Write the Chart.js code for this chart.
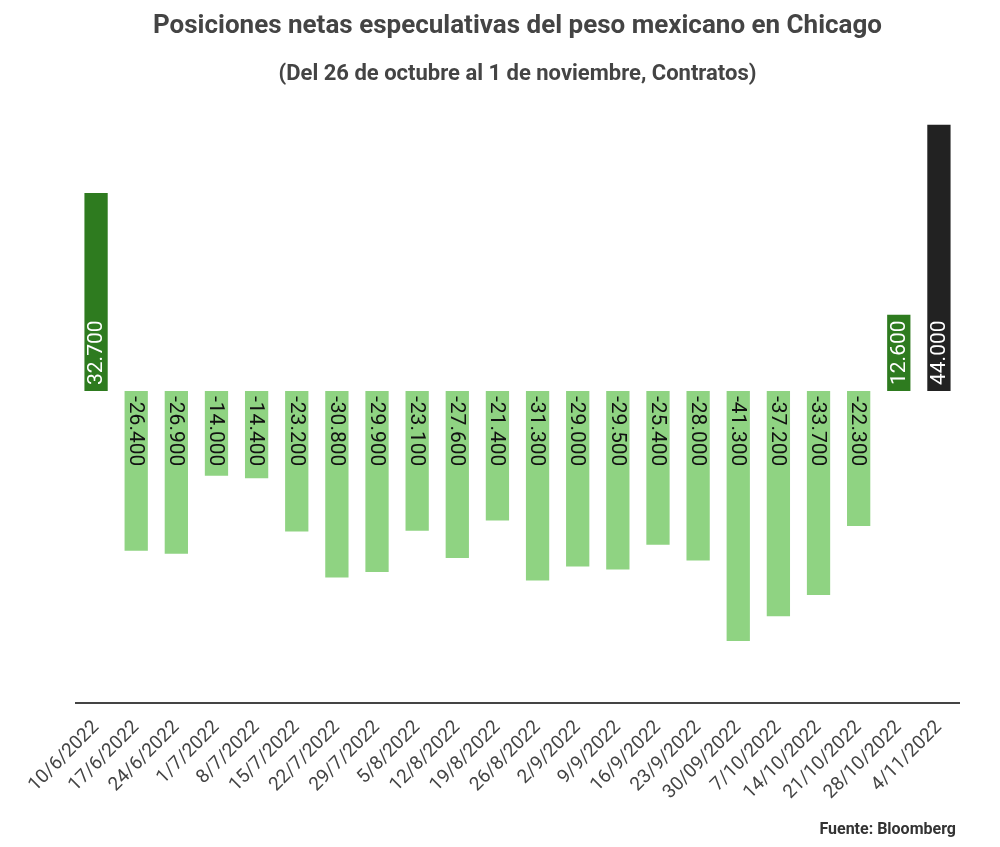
<!DOCTYPE html>
<html>
<head>
<meta charset="utf-8">
<script src="https://cdn.jsdelivr.net/npm/chart.js@4"></script>
<style>
  html, body { margin: 0; padding: 0; background: #fff; }
  #wrap { width: 1000px; height: 847px; }
</style>
</head>
<body>
<div id="wrap"><canvas id="myChart"></canvas></div>
<script>
// Chart data
const fechas = [
  "10/6/2022", "17/6/2022", "24/6/2022", "1/7/2022", "8/7/2022", "15/7/2022",
  "22/7/2022", "29/7/2022", "5/8/2022", "12/8/2022", "19/8/2022", "26/8/2022",
  "2/9/2022", "9/9/2022", "16/9/2022", "23/9/2022", "30/09/2022", "7/10/2022",
  "14/10/2022", "21/10/2022", "28/10/2022", "4/11/2022"
];
const contratos = [
  32700, -26400, -26900, -14000, -14400, -23200, -30800, -29900, -23100, -27600,
  -21400, -31300, -29000, -29500, -25400, -28000, -41300, -37200, -33700, -22300,
  12600, 44000
];
const titulo = "Posiciones netas especulativas del peso mexicano en Chicago";
const subtitulo = "(Del 26 de octubre al 1 de noviembre, Contratos)";
const fuente = "Fuente: Bloomberg";

const ctx = document.getElementById("myChart");

// colour per bar: positive dark green, negative light green, last week black
const colores = contratos.map((v, i) => {
  if (i === contratos.length - 1) return "#222222";
  return v >= 0 ? "#2e7b1f" : "#8fd382";
});

function formato(v) {
  const s = Math.abs(v).toString().replace(/\B(?=(\d{3})+(?!\d))/g, ".");
  return (v < 0 ? "-" : "") + s;
}

// rotated value labels inside the bars + source note
let etiquetas = {
  id: "etiquetas",
  afterDatasetsDraw: (chart) => {
    const c = chart.ctx;
    const meta = chart.getDatasetMeta(0);
    c.save();
    c.font = "21px Roboto";
    c.textBaseline = "middle";
    c.textAlign = "left";
    meta.data.forEach((bar, i) => {
      const v = contratos[i];
      c.save();
      if (v >= 0) {
        c.translate(bar.x, bar.base - 6);
        c.rotate(-Math.PI / 2);
        c.fillStyle = "#ffffff";
      } else {
        c.translate(bar.x, bar.base + 5);
        c.rotate(Math.PI / 2);
        c.fillStyle = "#111111";
      }
      c.fillText(formato(v), 0, 1);
      c.restore();
    });
    c.restore();
  },
  afterDraw: (chart) => {
    const c = chart.ctx;
    c.save();
    c.font = "bold 16px Roboto";
    c.fillStyle = "#333333";
    c.textAlign = "right";
    c.textBaseline = "middle";
    c.fillText(fuente, 956, 830);
    c.restore();
  },
};

const config = {
  type: "bar",
  data: {
    labels: fechas,
    datasets: [
      {
        data: contratos,
        backgroundColor: colores,
        barPercentage: 0.58,
        categoryPercentage: 1,
      },
    ],
  },
  options: {
    responsive: true,
    maintainAspectRatio: false,
    animation: false,
    layout: {
      padding: { left: 76, right: 41, top: 0, bottom: 38 },
    },
    plugins: {
      legend: { display: false },
      tooltip: { enabled: false },
      title: {
        display: true,
        text: titulo,
        color: "#444444",
        font: { family: "Roboto", size: 26, weight: "bold" },
        padding: { top: 11, bottom: 19 },
      },
      subtitle: {
        display: true,
        text: subtitulo,
        color: "#444444",
        font: { family: "Roboto", size: 22, weight: "bold" },
        padding: { top: 0, bottom: 37 },
      },
    },
    scales: {
      x: {
        grid: { display: false },
        border: { display: true, color: "#444444", width: 2 },
        ticks: {
          color: "#444444",
          font: { family: "Roboto", size: 19 },
          minRotation: 45,
          maxRotation: 45,
          autoSkip: false,
          padding: 5,
        },
      },
      y: {
        display: false,
        min: -51600,
        max: 44000,
      },
    },
  },
  plugins: [etiquetas],
};

new Chart(ctx, config);
</script>
</body>
</html>
